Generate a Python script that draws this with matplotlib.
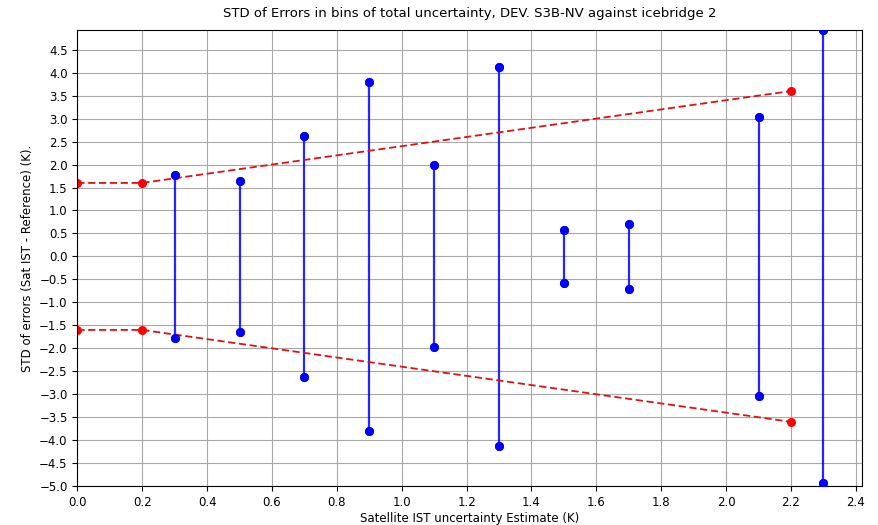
import matplotlib
matplotlib.use("Agg")
import matplotlib.pyplot as plt
import numpy as np

bin_centers = [0.3, 0.5, 0.7, 0.9, 1.1, 1.3, 1.5, 1.7, 2.1, 2.3]
std_errors = [1.77, 1.65, 2.62, 3.80, 1.98, 4.12, 0.57, 0.70, 3.03, 4.93]
ref_x = [0.0, 0.2, 2.2]
ref_y = [1.6, 1.6, 3.6]
yticks = np.arange(-5.0, 4.51, 0.5)
xticks = np.arange(0.0, 2.41, 0.2)

fig = plt.figure(figsize=(8.79, 5.25), dpi=100)
ax = fig.add_axes([0.088, 0.074, 0.893, 0.869])

for x, s in zip(bin_centers, std_errors):
    ax.plot([x, x], [-s, s], color='blue', marker='o', markersize=5.5, linewidth=1.6, alpha=0.85)
    ax.plot([x, x], [-s, s], color='blue', marker='o', markersize=5.5, linewidth=0, zorder=3)

ax.plot(ref_x, ref_y, color='#dd1111', linestyle='--', marker='o', markersize=5.5,
        linewidth=1.3, markerfacecolor='red', markeredgecolor='red', dashes=(4, 2))
ax.plot(ref_x, [-v for v in ref_y], color='#dd1111', linestyle='--', marker='o', markersize=5.5,
        linewidth=1.3, markerfacecolor='red', markeredgecolor='red', dashes=(4, 2))

ax.set_xlim(0, 2.42)
ax.set_ylim(-5.0, max(std_errors))
ax.set_xticks(xticks)
ax.set_yticks(yticks)
ax.tick_params(labelsize=8.5)
ax.grid(True, color='#a8a8a8', linewidth=0.8)
ax.set_axisbelow(True)
ax.set_title('STD of Errors in bins of total uncertainty, DEV. S3B-NV against icebridge 2', fontsize=9.5, pad=9)
ax.set_xlabel('Satellite IST uncertainty Estimate (K)', fontsize=8.5, labelpad=2)
ax.set_ylabel('STD of errors (Sat IST - Reference) (K).', fontsize=8.5)

fig.savefig('out.png', dpi=100)
